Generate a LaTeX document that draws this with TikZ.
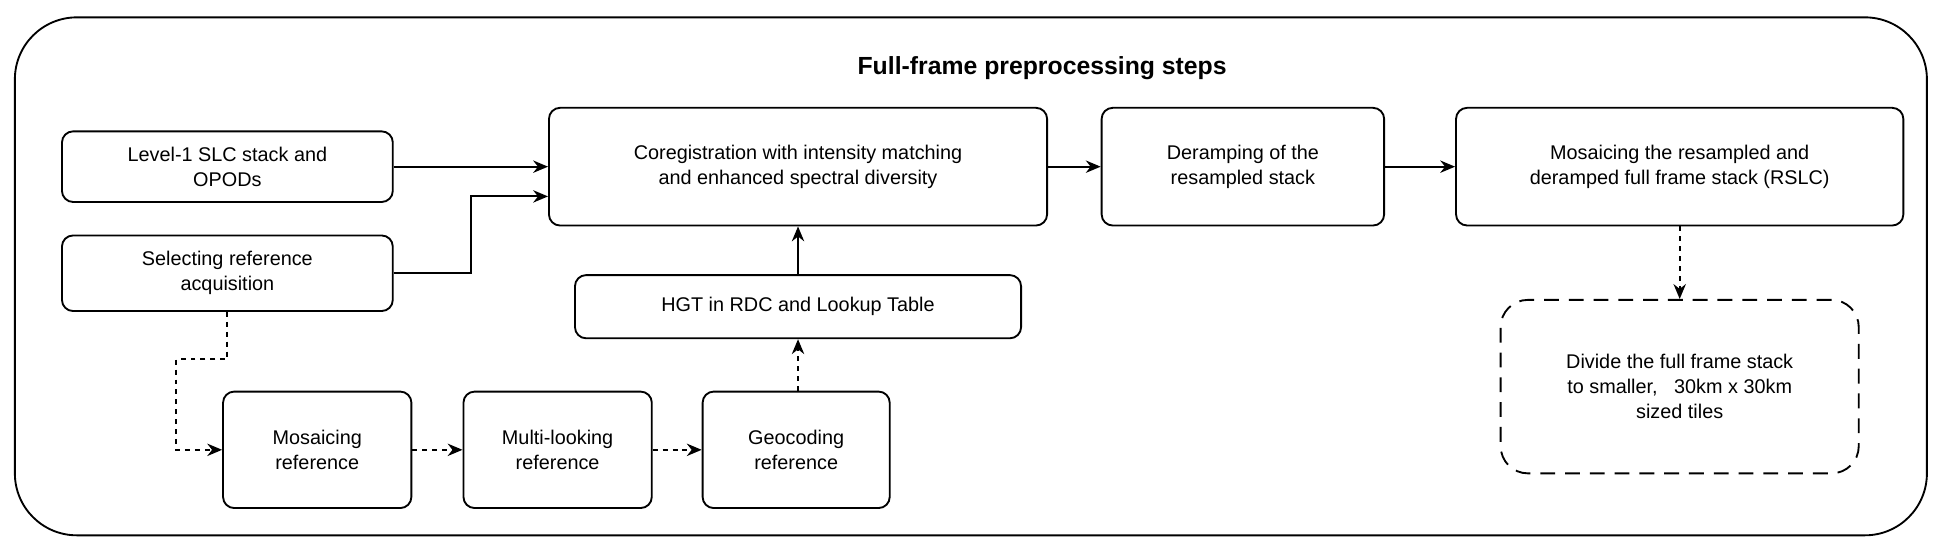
\documentclass[tikz,border=0pt]{standalone}
\usepackage{fontspec}
\setmainfont{Liberation Sans}
\usetikzlibrary{positioning, arrows.meta}

\begin{document}
\begin{tikzpicture}[
    x=1pt, y=-1pt,
    every node/.style={font=\fontsize{16}{20}\selectfont},
    stage/.style={draw=black, line width=1.5pt, rounded corners=9pt, align=center, inner sep=0pt},
    flow/.style={line width=1.5pt, -{Stealth[length=12pt, width=10pt]}},
    dflow/.style={flow, dash pattern=on 4pt off 4pt}
]
   \useasboundingbox (0,0) rectangle (1568,445);

   % Frame
   \draw[line width=1.5pt, rounded corners=50pt] (12,14) rectangle (1555,432);
   \node[font=\fontsize{20}{24}\selectfont\bfseries] (title) at (841,55) {Full-frame preprocessing steps};

   % Steps
   \node[stage, minimum width=267pt, minimum height=57pt] (slc) at (183.5,134.5) {Level-1 SLC stack and\\OPODs};
   \node[stage, minimum width=267pt, minimum height=61pt] (sel) at (183.5,220.5) {Selecting reference\\acquisition};
   \node[stage, minimum width=402pt, minimum height=95pt] (coreg) at (644,134.5) {Coregistration with intensity matching\\and enhanced spectral diversity};
   \node[stage, minimum width=228pt, minimum height=95pt] (deramp) at (1003,134.5) {Deramping of the\\resampled stack};
   \node[stage, minimum width=361pt, minimum height=95pt] (mosaic) at (1355.5,134.5) {Mosaicing the resampled and\\deramped full frame stack (RSLC)};
   \node[stage, minimum width=360pt, minimum height=51pt] (hgt) at (644,247.5) {HGT in RDC and Lookup Table};
   \node[stage, minimum width=152pt, minimum height=94pt] (mosref) at (256,363) {Mosaicing\\reference};
   \node[stage, minimum width=152pt, minimum height=94pt] (multi) at (450,363) {Multi-looking\\reference};
   \node[stage, minimum width=151pt, minimum height=94pt] (geo) at (642.5,363) {Geocoding\\reference};
   \node[stage, dash pattern=on 12pt off 8pt, rounded corners=22pt, minimum width=289pt, minimum height=140pt] (divide) at (1355.5,312) {Divide the full frame stack\\to smaller,~ ~30km x 30km\\sized tiles};

   % Connectors
   \coordinate (bend1) at (380,220.5);
   \coordinate (bend2) at (183.5,290);
   \coordinate (bend3) at (142,290);
   \draw[flow] (slc.east) -- (slc.east -| coreg.west);
   \draw[flow] (sel.east) -- (bend1) |- ([yshift=-24pt]coreg.west);
   \draw[dflow] (sel.south) -- (bend2) -- (bend3) |- (mosref.west);
   \draw[dflow] (mosref) -- (multi);
   \draw[dflow] (multi) -- (geo);
   \draw[dflow] (geo.north -| hgt.south) -- (hgt.south);
   \draw[flow] (hgt) -- (coreg);
   \draw[flow] (coreg) -- (deramp);
   \draw[flow] (deramp) -- (mosaic);
   \draw[dflow] (mosaic) -- (divide);
\end{tikzpicture}
\end{document}
